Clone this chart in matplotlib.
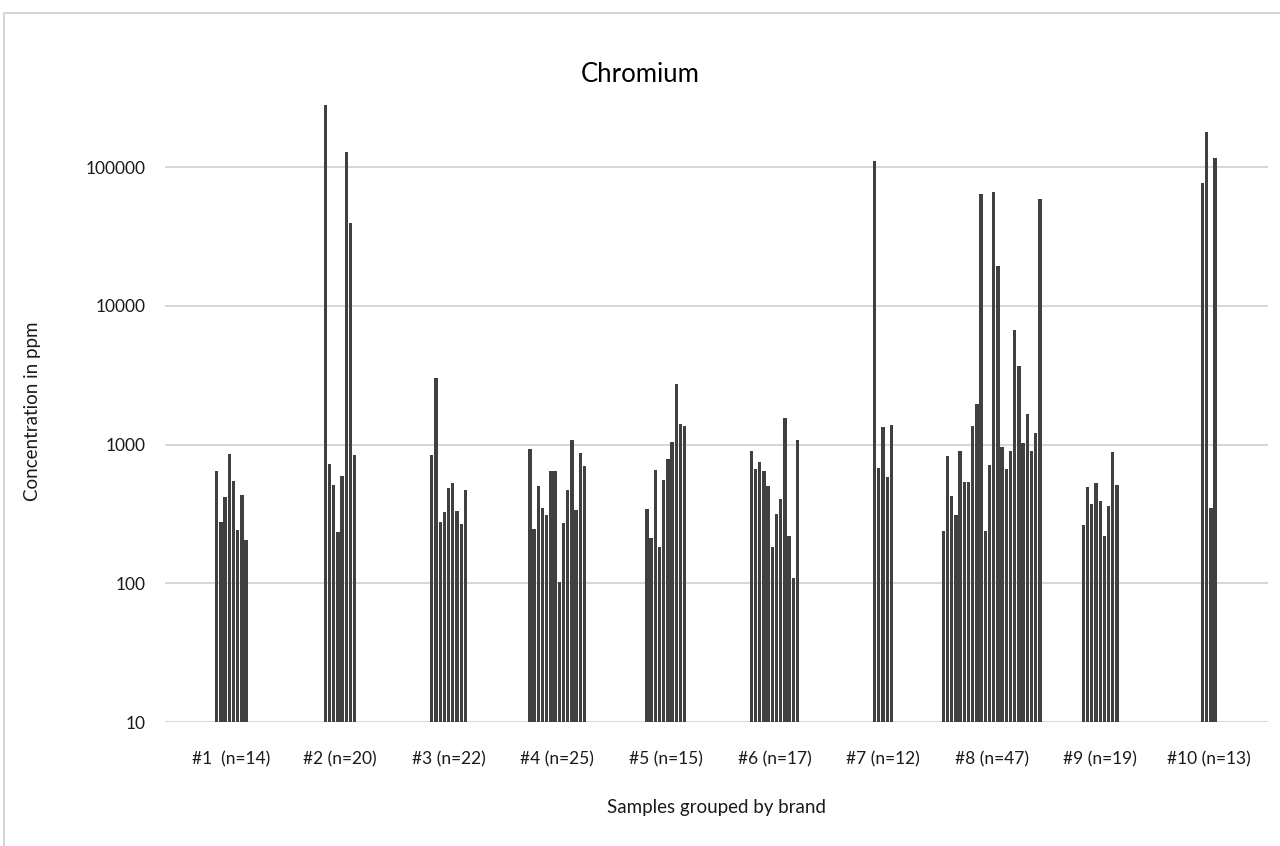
import matplotlib
matplotlib.use("Agg")
import matplotlib.pyplot as plt
from matplotlib.patches import Rectangle
import numpy as np

plt.rcParams['font.family'] = ['Lato', 'DejaVu Sans']

categories = ['#1  (n=14)', '#2 (n=20)', '#3 (n=22)', '#4 (n=25)', '#5 (n=15)',
              '#6 (n=17)', '#7 (n=12)', '#8 (n=47)', '#9 (n=19)', '#10 (n=13)']

brand1 = [644, 278, 420, 850, 543, 243, 435, 206]
brand2 = [281000, 728, 512, 236, 594, 129000, 39200, 845]
brand3 = [847, 3025, 277, 324, 484, 532, 329, 268, 471]
brand4 = [931, 248, 501, 349, 311, 642, 642, 102, 274, 471, 1075, 338, 866, 701]
brand5 = [345, 213, 660, 183, 556, 788, 1040, 2722, 1394, 1349]
brand6 = [895, 671, 742, 643, 499, 182, 313, 406, 1556, 220, 109, 1086]
brand7 = [109600, 675, 1342, 579, 1374]
brand8 = [239, 822, 425, 309, 893, 534, 534, 1367, 1958, 63900, 237, 712,
          66000, 19300, 964, 666, 898, 6720, 3680, 1020, 1650, 902, 1204, 58800]
brand9 = [262, 495, 370, 529, 393, 219, 362, 890, 507]
brand10 = [77300, 178700, 350, 116000]

groups = [brand1, brand2, brand3, brand4, brand5, brand6, brand7, brand8, brand9, brand10]
yticks = [10, 100, 1000, 10000, 100000]

fig = plt.figure(figsize=(12.8, 8.46), dpi=100)
W, H = 1280, 846
left, right, top, bottom = 165, 1268, 100, 722
ax = fig.add_axes([left / W, (H - bottom) / H, (right - left) / W, (bottom - top) / H])

# frame around chart area
fig.patches.append(Rectangle((4 / W, -0.05), 1.2, (H - 13) / H + 0.05,
                             transform=fig.transFigure, fill=False,
                             edgecolor='#d0d0d0', linewidth=1.2, zorder=0))

slot = 4.2 / 108.6
for i, vals in enumerate(groups):
    n = len(vals)
    xs = i + (np.arange(n) - (n - 1) / 2) * slot
    ax.bar(xs, vals, width=slot * 0.8, color='#404040', linewidth=0, zorder=3)

ax.set_yscale('log')
ax.set_ylim(10, 10 ** (1 + (bottom - top) / 138.75))
x0 = (left - 231.4) / 108.6
ax.set_xlim(x0, x0 + (right - left) / 108.6)

ax.set_yticks(yticks)
ax.set_yticklabels([str(v) for v in yticks], fontsize=12.5, color='#1a1a1a')
ax.yaxis.set_minor_locator(matplotlib.ticker.NullLocator())
ax.set_xticks(range(len(categories)))
ax.set_xticklabels(categories, fontsize=12.5, color='#1a1a1a')
ax.tick_params(axis='both', length=0)
ax.tick_params(axis='y', pad=14)
ax.tick_params(axis='x', pad=21)

for s in ax.spines.values():
    s.set_visible(False)
ax.grid(axis='y', which='major', color='#d4d4d4', linewidth=1.3, zorder=0)
ax.set_axisbelow(True)

ax.set_ylabel('Concentration in ppm', fontsize=13.5, labelpad=32, color='#1a1a1a')
ax.set_xlabel('Samples grouped by brand', fontsize=13.5, labelpad=23, color='#1a1a1a')
fig.text(640 / W, (H - 75) / H, 'Chromium', ha='center', va='center', fontsize=18.5)

fig.savefig('out.png', dpi=100, facecolor='white')
